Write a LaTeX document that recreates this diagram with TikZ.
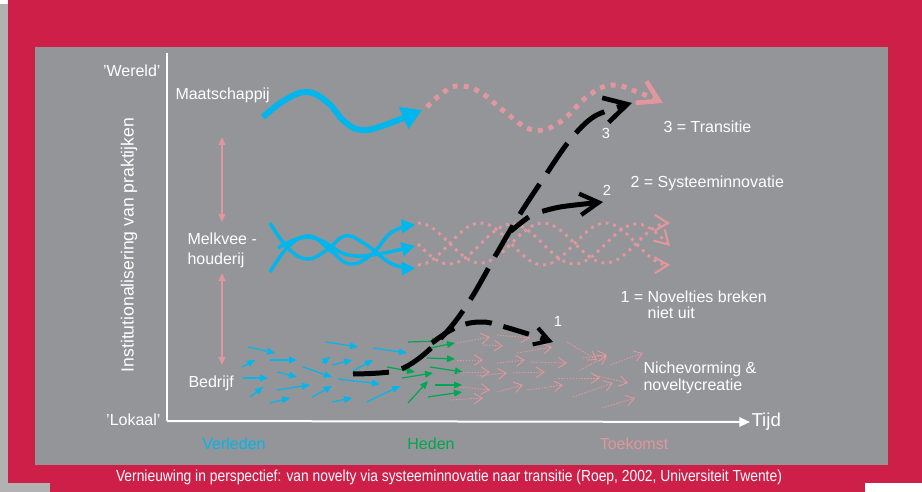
\documentclass[tikz,border=0pt]{standalone}
\usepackage{graphicx}
\usepackage{fontspec}
\setmainfont{Liberation Sans}
\usetikzlibrary{arrows.meta}
\definecolor{roepred}{RGB}{206,31,72}
\definecolor{panelgrey}{RGB}{147,149,152}
\definecolor{edgegrey}{RGB}{178,178,178}
\definecolor{pastcyan}{RGB}{0,182,236}
\definecolor{nowgreen}{RGB}{0,166,81}
\definecolor{futurepink}{RGB}{226,150,158}
\tikzset{every picture/.style={line width=0.75pt}}
\tikzset{
  lbl/.style={inner sep=0.75pt, text=white, font=\fontsize{12}{15}\selectfont},
  numlbl/.style={inner sep=0.75pt, text=white, font=\fontsize{11}{13}\selectfont},
  pastarrow/.style={draw=pastcyan, line width=0.9pt, -{Triangle[length=6pt,width=5pt]}},
  nowarrow/.style={draw=nowgreen, line width=0.9pt, -{Triangle[length=6pt,width=5pt]}},
  futurearrow/.style={draw=futurepink, line width=0.7pt, dash pattern=on 1.2pt off 1pt, -{Straight Barb[length=6pt,width=8pt,line width=0.7pt]}},
  regimeline/.style={draw=pastcyan, line width=2.6pt, -{Triangle[length=10pt,width=10pt]}},
  regimefuture/.style={draw=futurepink, line width=2.2pt, dash pattern=on 2.2pt off 3.6pt, -{Straight Barb[length=10pt,width=12pt,line width=1.6pt]}},
  landscapeline/.style={draw=pastcyan, line width=4.5pt, -{Triangle[length=15pt,width=17pt]}},
  landscapefuture/.style={draw=futurepink, line width=3.75pt, dash pattern=on 3.75pt off 4.5pt, -{Straight Barb[length=15pt,width=18pt,line width=3.5pt]}},
  pathline/.style={draw=black, line width=3.75pt, dash pattern=on 27pt off 10pt},
  levelarrow/.style={draw=futurepink, line width=1pt, {Triangle[length=6pt,width=5pt]}-{Triangle[length=6pt,width=5pt]}},
  axisline/.style={draw=white, line width=1.5pt}
}
\begin{document}
\begin{tikzpicture}[x=0.75pt,y=0.75pt,yscale=-1,xscale=1]
\useasboundingbox (0,0) rectangle (922,492);
\fill[white] (0,0) rectangle (922,492);
\fill[edgegrey] (0,4) rectangle (8,492);
\fill[edgegrey] (0,483) rectangle (50,492);
\fill[roepred] (8,0) rectangle (922,483);
\fill[roepred] (50,483) rectangle (865,492);
\fill[panelgrey] (35,47) rectangle (888,465);
% assen
\coordinate (ytop) at (167,53);
\coordinate (origin) at (167,421);
\draw (750,422) node [anchor=west][lbl, font=\fontsize{14}{16}\selectfont] (tijd) {Tijd};
\draw[axisline] (ytop) -- (origin);
\draw[axisline, -{Triangle[length=8pt,width=7pt]}] (origin) -- (tijd.west);
\draw (162,71) node [anchor=east][lbl] (wereld) {'Wereld'};
\draw (162,420) node [anchor=east][lbl] (lokaal) {'Lokaal'};
\draw (129,245) node [lbl, rotate=90, font=\fontsize{13.2}{15}\selectfont] (yaxis) {Institutionalisering van praktijken};
\draw (174,95) node [anchor=west][lbl] (maat) {Maatschappij};
\draw (186,250) node [anchor=west][lbl, align=left] (melkvee) {Melkvee -\\houderij};
\draw (187,383) node [anchor=west][lbl] (bedrijf) {Bedrijf};
\draw[levelarrow] (222,137) -- (222,222);
\draw[levelarrow] (222,273) -- (222,365);
% tijdvakken
\draw (234,444) node [lbl, text=pastcyan] (verleden) {Verleden};
\draw (431,444) node [lbl, text=nowgreen] (heden) {Heden};
\draw (634,444) node [lbl, text=futurepink] (toekomst) {Toekomst};
% legenda
\draw (662,127) node [anchor=west][lbl] (leg3) {3 = Transitie};
\draw (629,183) node [anchor=west][lbl] (leg2) {2 = Systeeminnovatie};
\draw (619,305) node [anchor=west][lbl, align=left, font=\fontsize{12}{12}\selectfont] (leg1) {1 = Novelties breken\\\hphantom{1 = }niet uit};
\draw (642,378) node [anchor=west][lbl, align=left, font=\fontsize{12}{12.75}\selectfont] (niche) {Nichevorming \&\\noveltycreatie};
\draw (449,477) node [lbl] (caption) {\scalebox{0.865}[1]{Vernieuwing in perspectief: van novelty via systeeminnovatie naar transitie (Roep, 2002, Universiteit Twente)}};
% landschap
\draw[landscapeline] plot[smooth, tension=0.7] coordinates {(263,117) (285,100) (307,92) (327,102) (345,122) (362,130) (385,125) (422,110)};
\draw[landscapefuture] plot[smooth, tension=0.7] coordinates {(427,107) (440,95) (457,86) (480,92) (505,112) (533,130) (560,122) (588,96) (612,85) (640,93) (663,103)};
% regime
\draw[regimeline] plot[smooth, tension=0.7] coordinates {(270,223) (288,248) (307,259) (327,250) (345,236) (365,244) (392,264) (415,268)};
\draw[regimeline] plot[smooth, tension=0.7] coordinates {(270,272) (289,246) (310,236) (330,250) (350,264) (372,254) (392,232) (415,225)};
\draw[regimeline] plot[smooth, tension=0.7] coordinates {(278,248) (300,238) (320,240) (345,254) (372,255) (415,246)};
\draw[regimefuture] plot[domain=418:670, samples=50, smooth] (\x, {243-20*cos(2.88*(\x-418))});
\draw[regimefuture] plot[domain=418:670, samples=50, smooth] (\x, {244+20*sin(2.88*(\x-418))});
\draw[regimefuture] plot[domain=418:670, samples=50, smooth] (\x, {244+21*cos(2.88*(\x-418))});
% niches verleden
\draw[pastarrow] (248,347) -- (275,353);
\draw[pastarrow] (326,342) -- (358,347);
\draw[pastarrow] (373,348) -- (407,353);
\draw[pastarrow] (242,367) -- (255,360);
\draw[pastarrow] (270,360) -- (297,360);
\draw[pastarrow] (322,363) -- (330,357);
\draw[pastarrow] (332,365) -- (352,360);
\draw[pastarrow] (353,371) -- (373,360);
\draw[pastarrow] (277,372) -- (297,377);
\draw[pastarrow] (303,367) -- (332,377);
\draw[pastarrow] (243,378) -- (268,378);
\draw[pastarrow] (338,379) -- (380,384);
\draw[pastarrow] (250,397) -- (263,387);
\draw[pastarrow] (277,390) -- (310,385);
\draw[pastarrow] (312,397) -- (332,386);
\draw[pastarrow] (270,403) -- (290,398);
\draw[pastarrow] (332,402) -- (352,398);
\draw[pastarrow] (367,402) -- (400,386);
% niches heden
\draw[nowarrow] (408,342) -- (440,341);
\draw[nowarrow] (430,348) -- (455,343);
\draw[nowarrow] (427,358) -- (455,359);
\draw[nowarrow] (387,367) -- (415,372);
\draw[nowarrow] (430,367) -- (463,372);
\draw[nowarrow] (402,378) -- (433,373);
\draw[nowarrow] (408,403) -- (428,381);
\draw[nowarrow] (435,385) -- (462,385);
\draw[nowarrow] (428,397) -- (462,392);
% niches toekomst
\draw[futurearrow] (457,343) -- (490,337);
\draw[futurearrow] (483,345) -- (503,346);
\draw[futurearrow] (497,335) -- (530,338);
\draw[futurearrow] (457,360) -- (483,360);
\draw[futurearrow] (497,363) -- (525,360);
\draw[futurearrow] (517,353) -- (552,347);
\draw[futurearrow] (530,362) -- (567,363);
\draw[futurearrow] (567,342) -- (597,360);
\draw[futurearrow] (583,358) -- (607,355);
\draw[futurearrow] (580,370) -- (607,356);
\draw[futurearrow] (610,365) -- (643,353);
\draw[futurearrow] (457,373) -- (490,372);
\draw[futurearrow] (477,376) -- (507,373);
\draw[futurearrow] (513,373) -- (545,372);
\draw[futurearrow] (558,378) -- (600,378);
\draw[futurearrow] (593,375) -- (628,383);
\draw[futurearrow] (460,387) -- (490,390);
\draw[futurearrow] (497,392) -- (523,385);
\draw[futurearrow] (527,390) -- (563,385);
\draw[futurearrow] (573,397) -- (613,383);
\draw[futurearrow] (450,400) -- (483,398);
\draw[futurearrow] (602,408) -- (635,398);
% paden 1, 2, 3
\draw[pathline, dash pattern=on 20pt off 9pt, -{Straight Barb[length=11pt,width=13pt,line width=3pt]}] plot[smooth, tension=0.7] coordinates {(432,343) (455,328) (480,322) (505,327) (553,342)};
\draw[pathline, dash pattern=on 17pt off 11pt on 60pt off 11pt, -{Straight Barb[length=14pt,width=16pt,line width=3.2pt]}] plot[smooth, tension=0.4] coordinates {(511,231) (532,215) (560,207) (603,202)};
\draw[pathline, -{Straight Barb[length=17pt,width=19pt,line width=3.5pt]}] plot[smooth, tension=0.55] coordinates {(353,374) (395,371) (422,356) (450,328) (472,297) (497,253) (520,214) (545,176) (570,140) (595,116) (632,103)};
\draw (558,321) node [numlbl] (num1) {1};
\draw (607,190) node [numlbl] (num2) {2};
\draw (606,133) node [numlbl] (num3) {3};
\end{tikzpicture}
\end{document}
